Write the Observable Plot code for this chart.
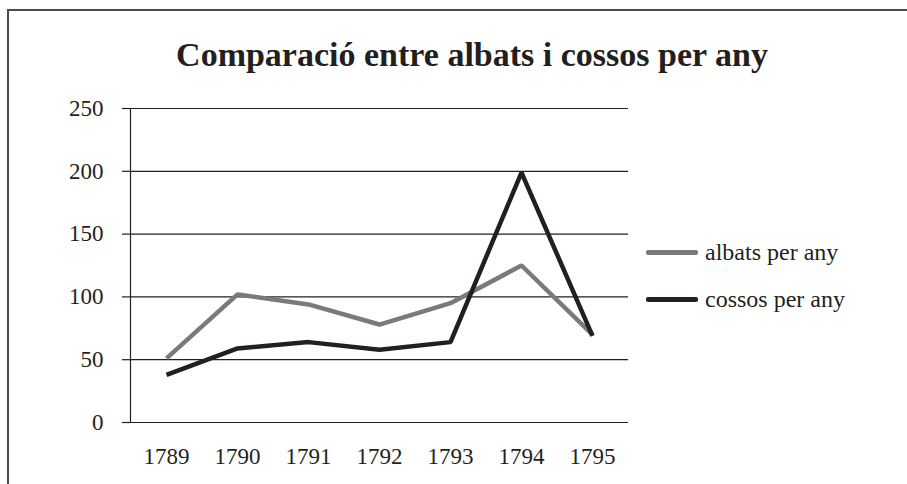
<!DOCTYPE html>
<html>
<head>
<meta charset="utf-8">
<script src="https://cdn.jsdelivr.net/npm/d3@7"></script>
<script src="https://cdn.jsdelivr.net/npm/@observablehq/plot@0.6"></script>
<style>
  html, body { margin: 0; padding: 0; background: #fff; }
  #wrap { position: relative; width: 907px; height: 484px; overflow: hidden; font-family: "Liberation Serif", "Times New Roman", serif; color: #231f20; }
  #border { position: absolute; left: 7px; top: 9px; width: 1000px; height: 1000px; border-left: 2px solid #4a4a4a; border-top: 2px solid #4a4a4a; box-sizing: border-box; }
  #title { position: absolute; left: 0; width: 944px; top: 35px; text-align: center; font-weight: bold; font-size: 34px; line-height: 40px; }
  #chart { position: absolute; left: 0; top: 0; }
  .leg { position: absolute; left: 646px; font-size: 24px; line-height: 28px; display: flex; align-items: center; }
  .sw { display: inline-block; width: 52px; height: 5px; border-radius: 2px; margin-right: 7px; }
</style>
</head>
<body>
<div id="wrap">
  <div id="chart"></div>
  <div id="border"></div>
  <div id="title">Comparació entre albats i cossos per any</div>
  <div class="leg" style="top:238px"><span class="sw" style="background:#7a7a7a"></span>albats per any</div>
  <div class="leg" style="top:285px"><span class="sw" style="background:#231f20"></span>cossos per any</div>
</div>
<script>
const years = ["1789", "1790", "1791", "1792", "1793", "1794", "1795"];
const albats = [51, 102, 94, 78, 95, 125, 70];
const cossos = [38, 59, 64, 58, 64, 199, 69];
const yTicks = [0, 50, 100, 150, 200, 250];

const rows = years.flatMap((y, i) => [
  {year: y, value: albats[i], serie: "albats per any"},
  {year: y, value: cossos[i], serie: "cossos per any"}
]);

const chart = Plot.plot({
  width: 907,
  height: 484,
  marginLeft: 130,
  marginRight: 279,
  marginTop: 108,
  marginBottom: 62,
  style: {fontFamily: "'Liberation Serif', 'Times New Roman', serif", fontSize: "23px", color: "#231f20", background: "transparent"},
  x: {type: "point", domain: years, padding: 0.5},
  y: {domain: [0, 250]},
  color: {domain: ["albats per any", "cossos per any"], range: ["#7a7a7a", "#231f20"]},
  marks: [
    Plot.ruleY(yTicks, {stroke: "#231f20", strokeWidth: 1.2}),
    Plot.frame({anchor: "left", stroke: "#231f20", strokeWidth: 1.2}),
    Plot.axisY({ticks: yTicks, tickSize: 8, tickPadding: 19, label: null, fontSize: 23, stroke: "#231f20", strokeWidth: 1.2}),
    Plot.axisX({tickSize: 0, tickPadding: 25, label: null, fontSize: 23}),
    Plot.line(rows, {x: "year", y: "value", z: "serie", stroke: "serie", strokeWidth: 4.5, strokeLinejoin: "miter", strokeLinecap: "butt"})
  ]
});
document.getElementById("chart").appendChild(chart);
</script>
</body>
</html>
